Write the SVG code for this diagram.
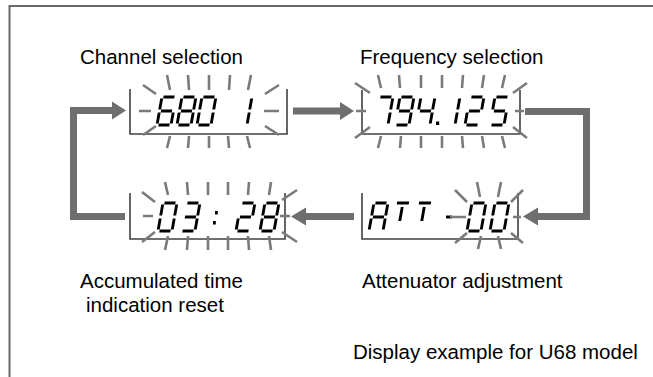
<svg xmlns="http://www.w3.org/2000/svg" xmlns:xlink="http://www.w3.org/1999/xlink" width="653" height="377" viewBox="0 0 653 377">
<style>
.frame{fill:none;stroke:#6a6a6a;stroke-width:2}
.box{fill:none;stroke:#404040;stroke-width:1.6}
.ray{stroke:#7a7a7a;stroke-width:2.6;fill:none}
.seg{stroke:#000;stroke-width:2.9;fill:none}
.dot{fill:#000}
.shaft{fill:none;stroke:#6e6e6e;stroke-width:7;stroke-linejoin:miter}
.head{fill:#6e6e6e}
.lbl{font-family:"Liberation Sans",Arial,Helvetica,sans-serif;font-size:20.5px;fill:#000}
</style>
<defs>
<path id="d0" d="M1.5,-28H12.5M14,-26.5V-15.5M14,-12.5V-1.5M1.5,0H12.5M0,-12.5V-1.5M0,-26.5V-15.5"/>
<path id="d1" d="M14,-26.5V-15.5M14,-12.5V-1.5"/>
<path id="d2" d="M1.5,-28H12.5M14,-26.5V-15.5M1.5,-14H12.5M0,-12.5V-1.5M1.5,0H12.5"/>
<path id="d3" d="M1.5,-28H12.5M14,-26.5V-15.5M1.5,-14H12.5M14,-12.5V-1.5M1.5,0H12.5"/>
<path id="d4" d="M0,-26.5V-15.5M1.5,-14H12.5M14,-26.5V-15.5M14,-12.5V-1.5"/>
<path id="d5" d="M1.5,-28H12.5M0,-26.5V-15.5M1.5,-14H12.5M14,-12.5V-1.5M1.5,0H12.5"/>
<path id="d6" d="M1.5,-28H12.5M0,-26.5V-15.5M1.5,-14H12.5M0,-12.5V-1.5M14,-12.5V-1.5M1.5,0H12.5"/>
<path id="d7" d="M1.5,-28H12.5M14,-26.5V-15.5M14,-12.5V-1.5"/>
<path id="d8" d="M1.5,-28H12.5M14,-26.5V-15.5M14,-12.5V-1.5M1.5,0H12.5M0,-12.5V-1.5M0,-26.5V-15.5M1.5,-14H12.5"/>
<path id="d9" d="M1.5,-28H12.5M14,-26.5V-15.5M14,-12.5V-1.5M1.5,0H12.5M0,-26.5V-15.5M1.5,-14H12.5"/>
<path id="dA" d="M1.5,-28H12.5M14,-26.5V-15.5M14,-12.5V-1.5M0,-12.5V-1.5M0,-26.5V-15.5M1.5,-14H12.5"/>
<path id="dT" d="M1,-28H13M7,-24V-10"/>
</defs>

<path class="frame" d="M9.5,377V6H653"/>

<g id="connectors">
  <path class="shaft" d="M293,111H341"/>
  <polygon class="head" points="340,102 354,111 340,120"/>
  <path class="shaft" d="M525,111.5H586.5V216.5H537"/>
  <polygon class="head" points="538,207.5 523,216.5 538,225.5"/>
  <path class="shaft" d="M354,216.5H305"/>
  <polygon class="head" points="306,207.5 291,216.5 306,225.5"/>
  <path class="shaft" d="M125,216.5H73.5V110.5H113"/>
  <polygon class="head" points="112,101.5 126,110.5 112,119.5"/>
</g>

<g id="channel">
  <text class="lbl" x="80" y="64">Channel selection</text>
  <path class="box" d="M130,89V134H287V89"/>
  <g class="seg">
    <use xlink:href="#d6" transform="translate(157,125) skewX(-10)"/>
    <use xlink:href="#d8" transform="translate(177,125) skewX(-10)"/>
    <use xlink:href="#d0" transform="translate(197,125) skewX(-10)"/>
    <use xlink:href="#d1" transform="translate(233,125) skewX(-10)"/>
  </g>
  <path class="ray" d="M167,75L170,90M188,75L189,90M209,75V90M230,75L229,90M251,75L248,90M170,136L167,148M189,136L188,148M209,136V148M228,136L229,148M247,136L250,148M139,111H151M143,85L156,94M143,135L156,126M264,111H279M265,94L279,85M265,126L279,135"/>
</g>

<g id="frequency">
  <text class="lbl" x="360" y="64">Frequency selection</text>
  <path class="box" d="M362,90V134H520V90"/>
  <g class="seg">
    <use xlink:href="#d7" transform="translate(374,125) skewX(-10)"/>
    <use xlink:href="#d9" transform="translate(395,125) skewX(-10)"/>
    <use xlink:href="#d4" transform="translate(416,125) skewX(-10)"/>
    <use xlink:href="#d1" transform="translate(441,125) skewX(-10)"/>
    <use xlink:href="#d2" transform="translate(465,125) skewX(-10)"/>
    <use xlink:href="#d5" transform="translate(490,125) skewX(-10)"/>
  </g>
  <rect class="dot" x="436" y="121.5" width="3.2" height="3.5"/>
  <path class="ray" d="M378,75L381,88M399,75L400,88M421,75V88M442,75V88M463,75L462,88M484,75L482,88M505,75L502,88M381,136L378,148M401,136L400,148M421,136V148M442,136V148M462,136L463,148M482,136L484,148M502,136L505,148M356,111H366M355,83L370,93M355,138L370,127M515,111H524M513,93L527,83M513,127L527,138"/>
</g>

<g id="attenuator">
  <text class="lbl" x="362" y="288">Attenuator adjustment</text>
  <path class="box" d="M362,193V239H518V193"/>
  <g class="seg">
    <use xlink:href="#dA" transform="translate(369,231) skewX(-10)"/>
    <use xlink:href="#dT" transform="translate(391,231) skewX(-10)"/>
    <use xlink:href="#dT" transform="translate(413,231) skewX(-10)"/>
    <use xlink:href="#d0" transform="translate(467,231) skewX(-10)"/>
    <use xlink:href="#d0" transform="translate(490,231) skewX(-10)"/>
    <path d="M446,217H452"/>
  </g>
  <path class="ray" d="M477,182L480,197M501,182L498,197M455,190L467,202M523,190L511,202M481,236L478,249M498,236L501,249M455,243L467,233M523,243L511,233M513,217H521M450,217H466"/>
</g>

<g id="accumulated">
  <text class="lbl" x="80" y="288">Accumulated time</text>
  <text class="lbl" x="86" y="312">indication reset</text>
  <path class="box" d="M130,193V239H285V193"/>
  <g class="seg">
    <use xlink:href="#d0" transform="translate(158,231) skewX(-10)"/>
    <use xlink:href="#d3" transform="translate(181,231) skewX(-10)"/>
    <use xlink:href="#d2" transform="translate(236,231) skewX(-10)"/>
    <use xlink:href="#d8" transform="translate(260,231) skewX(-10)"/>
  </g>
  <rect class="dot" x="215" y="211" width="2.8" height="3.5"/>
  <rect class="dot" x="213" y="221" width="2.8" height="3.5"/>
  <path class="ray" d="M165,182L168,195M187,182L188,195M208,182V195M228,182V195M249,182L248,195M271,182L269,195M168,236L165,250M188,236L187,250M208,236V250M228,236V250M248,236L249,250M269,236L271,250M142,192L155,202M143,216H153M142,242L155,232M282,200L297,190M280,216H290M282,232L297,242"/>
</g>

<g id="caption">
  <text class="lbl" x="353" y="359">Display example for U68 model</text>
</g>
</svg>
